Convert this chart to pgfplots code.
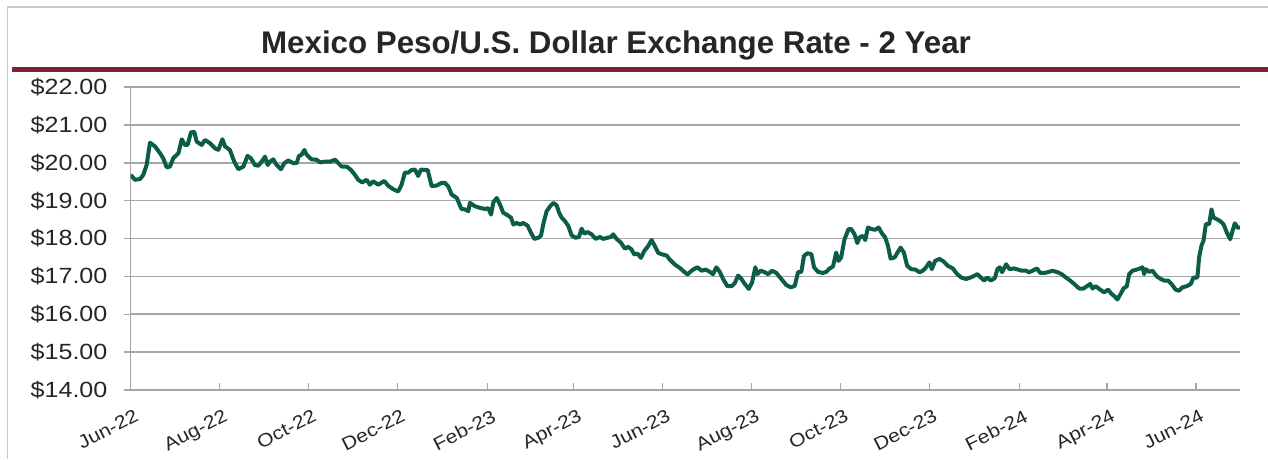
\documentclass[border=0pt]{standalone}
\usepackage{pgfplots}
\pgfplotsset{compat=1.18}
\usepackage{fontspec}
\setmainfont{Liberation Sans}
\newfontfamily\tickfont{Liberation Sans}[FakeStretch=1.14]
\definecolor{gridgray}{HTML}{A6A6A6}
\definecolor{bordergray}{HTML}{C8C8C8}
\definecolor{maroon}{HTML}{7B2233}
\definecolor{linegreen}{HTML}{0B5D4A}
\begin{document}
\begin{tikzpicture}[x=1pt,y=1pt]
\useasboundingbox (0,0) rectangle (1268,459);
\draw[bordergray, line width=1.5pt] (7.5,0) -- (7.5,452) -- (1268,452);
\fill[maroon] (12,387) rectangle (1268,391.5);
\node[anchor=base, font=\fontsize{31.3}{36}\selectfont\bfseries, text=black!85] at (616,406) {Mexico Peso/U.S. Dollar Exchange Rate - 2 Year};
\begin{axis}[
  at={(130.6pt,69pt)}, anchor=south west, scale only axis,
  width=1109.2pt, height=303pt,
  xmin=0, xmax=761, ymin=14, ymax=22,
  axis x line*=bottom, axis y line*=left,
  axis line style={gridgray, line width=1.5pt},
  xtick align=inside, ytick align=outside,
  major tick length=7pt,
  tick style={gridgray, line width=1.5pt},
  ymajorgrids, major grid style={gridgray, line width=1.6pt},
  ytick={14,15,16,17,18,19,20,21,22},
  yticklabels={\$14.00,\$15.00,\$16.00,\$17.00,\$18.00,\$19.00,\$20.00,\$21.00,\$22.00},
  xtick={0,61,122,183,245,304,365,426,487,548,610,670,731},
  xticklabels={Jun-22,Aug-22,Oct-22,Dec-22,Feb-23,Apr-23,Jun-23,Aug-23,Oct-23,Dec-23,Feb-24,Apr-24,Jun-24},
  yticklabel style={font=\tickfont\fontsize{22}{26}\selectfont, text=black!85, anchor=east, inner sep=0pt, xshift=-16pt},
  xticklabel style={font=\tickfont\fontsize{18.5}{22}\selectfont, text=black!85, rotate=27, anchor=north east, inner sep=0pt, xshift=-5.5pt, yshift=-18pt},
]
\addplot[linegreen, line width=4pt, line join=round, mark=none] coordinates {
(0,19.68)(3.0,19.55)(6.5,19.57)(8.7,19.68)(11.0,19.94)(13.3,20.53)(16.8,20.43)(20.2,20.25)(22.4,20.12)(24.7,19.88)
(27.0,19.90)(29.3,20.12)(32.8,20.25)(35.1,20.62)(37.3,20.47)(39.1,20.47)(41.4,20.80)(43.7,20.82)(45.3,20.56)(48.8,20.47)
(51.0,20.60)(54.4,20.52)(57.9,20.38)(60.2,20.34)(63.0,20.62)(64.8,20.43)(68.1,20.34)(71.1,20.03)(73.9,19.83)(77.4,19.90)
(80.2,20.18)(82.5,20.12)(85.3,19.94)(87.6,19.92)(89.9,20.03)(92.2,20.16)(94.1,19.94)(95.6,20.03)(97.9,20.09)(100.2,19.94)
(103.2,19.83)(105.5,19.99)(108.2,20.06)(111.6,19.99)(113.9,19.99)(115.5,20.18)(117.3,20.21)(119.2,20.34)(120.8,20.21)(124.1,20.09)
(127.6,20.08)(129.9,20.01)(133.4,20.03)(136.8,20.03)(140.2,20.08)(142.5,19.99)(144.8,19.90)(148.2,19.90)(151.2,19.81)(153.9,19.68)
(156.2,19.55)(158.9,19.48)(161.9,19.55)(164.2,19.42)(166.4,19.51)(169.9,19.42)(174.0,19.52)(176.8,19.39)(180.2,19.30)(183.6,19.24)
(185.9,19.42)(188.2,19.74)(190.5,19.74)(192.8,19.81)(195.1,19.82)(197.3,19.65)(199.2,19.82)(201.9,19.81)(203.8,19.81)(206.6,19.38)
(210.0,19.40)(213.4,19.47)(215.7,19.47)(218.0,19.37)(220.3,19.16)(223.8,19.07)(227.0,18.78)(229.4,18.77)(231.7,18.72)(232.8,18.94)
(236.3,18.85)(239.7,18.81)(243.1,18.78)(245.4,18.80)(247.3,18.63)(248.9,18.96)(251.2,19.07)(253.4,18.90)(255.7,18.68)(258.0,18.63)
(261.0,18.55)(262.6,18.37)(264.9,18.41)(267.2,18.37)(269.4,18.41)(272.4,18.34)(274.7,18.15)(277.0,17.99)(279.8,18.02)(281.6,18.08)
(283.1,18.37)(285.4,18.72)(287.8,18.85)(290.1,18.94)(292.4,18.87)(294.0,18.68)(295.8,18.55)(298.0,18.46)(300.3,18.33)(302.6,18.08)
(305.3,18.02)(307.6,18.04)(309.5,18.26)(311.2,18.13)(313.5,18.17)(316.3,18.11)(319.1,17.99)(322.0,18.04)(324.3,17.99)(327.2,18.02)
(329.5,18.04)(331.1,18.11)(333.4,17.99)(336.4,17.89)(339.2,17.73)(341.4,17.78)(343.7,17.71)(345.5,17.58)(347.8,17.60)(350.1,17.49)
(352.4,17.67)(355.1,17.80)(357.4,17.96)(359.7,17.80)(362.0,17.62)(364.8,17.58)(367.8,17.55)(370.0,17.44)(373.5,17.31)(376.9,17.22)
(379.2,17.14)(382.2,17.05)(383.7,17.11)(385.9,17.18)(388.9,17.24)(391.7,17.15)(394.5,17.18)(397.4,17.12)(399.6,17.06)(401.9,17.24)
(404.2,17.12)(406.5,16.93)(409.5,16.74)(412.3,16.74)(414.5,16.82)(416.8,17.02)(419.1,16.93)(421.4,16.80)(424.1,16.67)(426.4,16.84)
(428.6,17.24)(430.0,17.06)(432.3,17.15)(435.1,17.11)(437.4,17.06)(440.2,17.15)(443.0,17.09)(446.5,16.93)(449.9,16.77)(452.9,16.71)
(455.7,16.75)(457.9,17.11)(460.2,17.12)(462.0,17.54)(464.3,17.61)(467.1,17.59)(468.9,17.24)(471.6,17.12)(475.0,17.09)(477.3,17.12)
(479.6,17.21)(481.9,17.26)(484.1,17.63)(485.7,17.41)(487.5,17.50)(489.8,17.98)(492.6,18.25)(494.4,18.25)(496.7,18.11)(498.6,17.88)
(500.1,18.03)(502.4,18.07)(504.0,17.96)(505.9,18.29)(508.2,18.25)(510.9,18.23)(513.2,18.29)(515.4,18.14)(517.7,18.03)(519.6,17.81)
(521.4,17.47)(524.2,17.50)(526.5,17.65)(528.3,17.76)(530.5,17.63)(532.8,17.28)(535.6,17.19)(538.4,17.18)(541.3,17.11)(543.5,17.15)
(545.8,17.24)(548.1,17.37)(549.7,17.19)(552.0,17.41)(555.0,17.46)(557.9,17.39)(560.6,17.28)(564.1,17.21)(567.1,17.06)(569.9,16.97)
(573.2,16.93)(576.2,16.97)(578.0,17.00)(581.0,17.06)(583.3,16.97)(585.6,16.89)(587.8,16.97)(590.1,16.89)(592.9,16.95)(594.7,17.19)
(596.3,17.24)(597.9,17.11)(600.7,17.32)(603.0,17.19)(606.0,17.21)(608.8,17.18)(611.5,17.15)(614.3,17.15)(616.5,17.11)(618.8,17.15)
(621.8,17.21)(624.1,17.09)(626.9,17.09)(630.2,17.12)(632.5,17.15)(636.0,17.11)(638.7,17.06)(641.7,16.97)(644.6,16.89)(647.4,16.80)
(650.8,16.68)(653.8,16.68)(656.1,16.74)(658.4,16.80)(659.9,16.68)(662.2,16.74)(665.2,16.65)(667.9,16.58)(670.7,16.65)(672.9,16.54)
(675.2,16.47)(677.0,16.39)(679.3,16.54)(681.2,16.68)(683.5,16.74)(685.1,17.06)(687.4,17.15)(690.3,17.18)(692.6,17.21)(694.2,17.24)
(695.4,17.06)(696.5,17.19)(698.8,17.12)(701.1,17.15)(704.0,17.00)(706.8,16.93)(709.1,16.89)(711.8,16.89)(714.1,16.80)(717.0,16.65)
(719.3,16.62)(721.6,16.71)(724.6,16.74)(727.4,16.80)(729.2,16.97)(731.9,16.97)(733.1,17.50)(734.7,17.81)(736.1,17.94)(737.7,18.38)
(740.0,18.38)(741.6,18.77)(743.0,18.55)(745.3,18.51)(747.5,18.46)(749.8,18.38)(752.1,18.16)(754.4,17.98)(756.0,18.20)(757.6,18.40)
(759.4,18.29)(761.0,18.29)
};
\end{axis}
\end{tikzpicture}
\end{document}
